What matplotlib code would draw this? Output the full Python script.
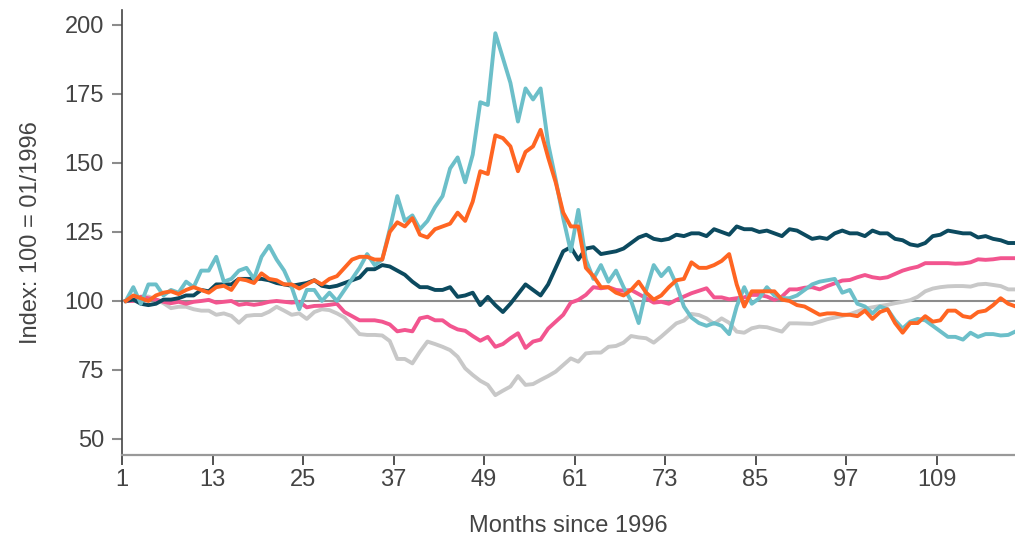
import numpy as np
import matplotlib
matplotlib.use("Agg")
import matplotlib.pyplot as plt

plt.rcParams['font.family'] = ['Liberation Sans', 'DejaVu Sans']

# monthly index values, 100 = 01/1996
months = np.arange(1, 120)

teal = [100, 105, 99, 106, 106, 102, 104, 103, 107, 105,
        111, 111, 116, 107, 108, 111, 112, 108, 116, 120,
        115, 111, 105, 97, 104, 104, 100, 103, 100, 104,
        108, 112, 117, 113, 115, 126, 138, 129, 131, 126,
        129, 134, 138, 148, 152, 143, 153, 172, 171, 197,
        188, 179, 165, 177, 173, 177, 157, 144, 130, 118,
        133, 115, 108, 113, 107, 111, 105, 100, 92, 104,
        113, 109, 112, 106, 98, 94, 92, 91, 92, 91,
        88, 98, 105, 99, 101, 105, 102, 101, 101, 102,
        104, 106, 107, 107.5, 108, 103, 104, 99, 98, 95.5,
        98, 97, 93, 90, 92.5, 93.5, 93, 91, 89, 87,
        87, 86, 88.5, 87, 88, 88, 87.5, 87.7, 89]

orange = [100, 102, 101, 100, 102, 103, 103.5, 102.5, 104, 105,
          104, 103, 105, 105.5, 104, 108, 107.5, 106.5, 110, 108,
          107.5, 106, 106, 104.5, 106, 107.5, 106, 108, 109, 112,
          115, 116, 116, 115, 115, 125, 128.5, 127, 130, 124,
          123, 126, 127, 128, 132, 129, 136, 147, 146, 160,
          159, 156, 147, 154, 156, 162, 152, 143, 132, 127,
          127, 112, 109, 105, 105, 103, 102, 104, 107, 103,
          100.5, 102, 105, 107.5, 108, 114, 112, 112, 113, 114.5,
          117, 106, 98, 103.5, 103.5, 103.5, 103.5, 100.5, 100, 98.5,
          98, 96.5, 95, 95.5, 95.5, 95, 95, 94.5, 96.5, 93.5,
          96, 97, 92, 88.5, 92, 92, 94.5, 92.5, 93, 96.5,
          96.5, 94.5, 94, 96, 96.5, 98.5, 101, 99, 98]

navy = [100, 100.5, 99, 98.5, 99, 100.5, 100.5, 101, 102, 102,
        104, 103.5, 106, 106, 106, 108, 108, 108, 108, 107.5,
        106.5, 106, 105.5, 106, 106.5, 107.5, 105.5, 105, 105.5, 106.5,
        107.5, 108.5, 111.5, 111.5, 113, 112.5, 111, 109.5, 107, 105,
        105, 104, 104, 105, 101.5, 102, 103, 98.5, 101.5, 98.5,
        96, 99, 102.5, 106, 104, 102, 106, 112, 118, 119.5,
        115, 119, 119.5, 117, 117.5, 118, 119, 121, 123, 124,
        122.5, 122, 122.5, 124, 123.5, 124.5, 124.5, 123.5, 126, 125,
        124, 127, 126, 126, 125, 125.5, 124.5, 123.5, 126, 125.5,
        124, 122.5, 123, 122.5, 124.5, 125.5, 124.5, 124.5, 123.5, 125.5,
        124.5, 124.5, 122.5, 122, 120.5, 120, 121, 123.5, 124, 125.5,
        125, 124.5, 124.5, 123, 123.5, 122.5, 122, 121, 121]

pink = [100, 100, 101.5, 101, 100.5, 99.7, 99.2, 99.7, 99, 99.7,
        100, 100.4, 99.4, 99.7, 100, 98.6, 99, 98.6, 99, 99.7,
        100, 99.7, 99.4, 99.7, 97.7, 98.2, 98.3, 98.6, 99, 96,
        94.5, 93, 93, 93, 92.5, 91.5, 89, 89.5, 89, 93.7,
        94.3, 93, 93, 91, 89.7, 89.2, 87.3, 85.6, 87, 83.4,
        84.4, 86.5, 88.3, 83, 85.3, 86, 90, 92.5, 95, 99.4,
        100.4, 102.2, 105, 104.6, 105, 104, 103.7, 104, 102.5, 101,
        99.4, 99.7, 99, 100.4, 101.6, 102.8, 103.7, 104.6, 101.3, 101.3,
        100.6, 101, 101.3, 102.2, 102.2, 101.6, 100.4, 101.6, 104.2, 104.2,
        104.8, 105, 104.2, 105.4, 106.4, 107.4, 107.6, 108.6, 109.4, 108.6,
        108.2, 108.6, 109.8, 111, 111.8, 112.4, 113.7, 113.7, 113.7, 113.7,
        113.5, 113.6, 114, 115.1, 114.9, 115.1, 115.5, 115.5, 115.5]

grey = [100, 100.4, 101.6, 101.6, 100.6, 99.2, 97.4, 97.9, 97.9, 97,
        96.5, 96.5, 95, 95.5, 94.6, 92.1, 94.6, 94.9, 94.9, 96.1,
        97.9, 96.5, 95, 95.5, 93.5, 96, 97, 96.7, 95.5, 94,
        91, 88, 87.7, 87.7, 87.5, 85.5, 79, 79, 77.4, 81.6,
        85.3, 84.4, 83.4, 82.2, 79.8, 75.6, 73.2, 71.1, 69.6, 65.9,
        67.5, 69, 72.8, 69.6, 69.9, 71.4, 72.8, 74.4, 76.8, 79.2,
        78, 81, 81.3, 81.3, 83.4, 83.7, 84.9, 87.3, 86.8, 86.5,
        84.9, 87.1, 89.5, 91.9, 92.9, 95.3, 94.9, 93.7, 91.7, 93.7,
        92.1, 88.9, 88.5, 90.1, 90.7, 90.5, 89.7, 88.9, 91.9, 91.9,
        91.8, 91.7, 92.5, 93.4, 94, 94.6, 95.2, 96.2, 97.2, 97.7,
        98.2, 98.6, 99.2, 99.7, 100.3, 101.5, 103.5, 104.5, 105, 105.3,
        105.4, 105.4, 105.2, 106, 106.2, 105.8, 105.4, 104.2, 104.2]

xticks = [1, 13, 25, 37, 49, 61, 73, 85, 97, 109]
yticks = [50, 75, 100, 125, 150, 175, 200]

fig = plt.figure(figsize=(10.15, 5.42), dpi=100)
ax = fig.add_axes([0.1202, 0.1605, 0.8798, 0.821])

# points sit mid-month
x = months + 0.5
ax.axhline(100, color='#8c8c8c', lw=1.5, zorder=1)
lw = 2.8
ax.plot(x, grey, color='#c8c8c8', lw=lw, zorder=2)
ax.plot(x, pink, color='#f2558f', lw=lw, zorder=3)
ax.plot(x, navy, color='#0c4a5f', lw=lw, zorder=4)
ax.plot(x, teal, color='#6cbfc9', lw=lw, zorder=5)
ax.plot(x, orange, color='#ff6522', lw=lw, zorder=6)

ax.set_xlim(1, 119.4)
ax.set_ylim(44.2, 205.4)
ax.set_xticks(xticks)
ax.set_yticks(yticks)

for s in ['top', 'right']:
    ax.spines[s].set_visible(False)
ax.spines['left'].set_color('#444444')
ax.spines['left'].set_linewidth(1.2)
ax.spines['bottom'].set_color('#999999')
ax.spines['bottom'].set_linewidth(1.6)

ax.tick_params(axis='y', length=7, width=1.5, color='#8c8c8c', pad=6,
               labelsize=17, labelcolor='#444444')
ax.tick_params(axis='x', length=7, width=1.3, color='#444444', pad=3,
               labelsize=17, labelcolor='#444444')

ax.set_xlabel('Months since 1996', fontsize=17, color='#444444', labelpad=17)
ax.set_ylabel('Index: 100 = 01/1996', fontsize=17, color='#444444', labelpad=16)

fig.savefig('out.png', dpi=100)
